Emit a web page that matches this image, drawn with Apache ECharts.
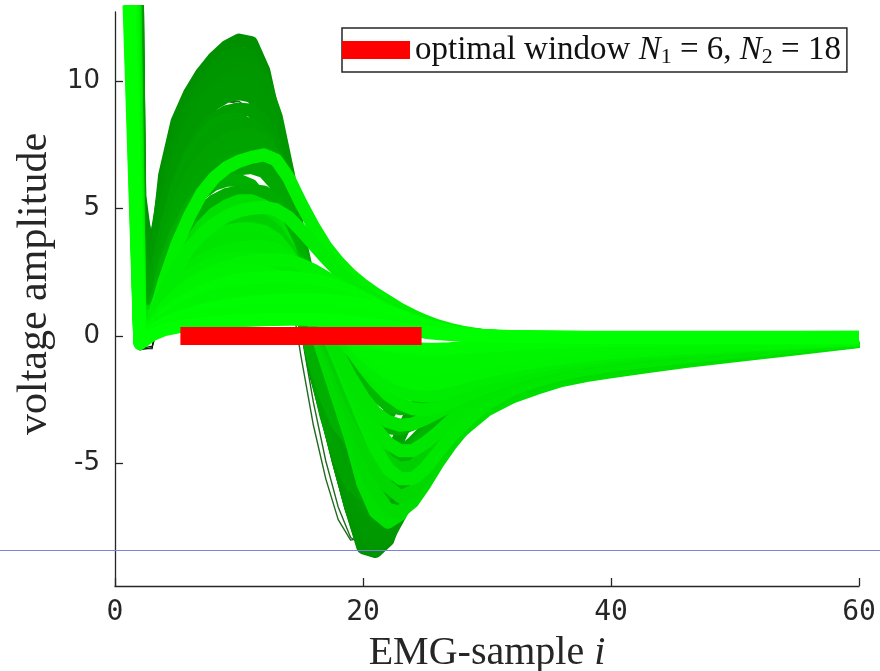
<!DOCTYPE html>
<html>
<head>
<meta charset="utf-8">
<title>EMG samples with optimal window</title>
<script src="https://cdn.jsdelivr.net/npm/echarts@6.0.0/dist/echarts.min.js"></script>
<style>
  html, body { margin: 0; padding: 0; background: #ffffff; }
  #chart { width: 880px; height: 671px; }
</style>
</head>
<body>
<div id="chart"></div>
<script>
// EMG sample index (1..30 densely, then the slow tail)
const sampleIdx = [1, 2, 3, 4, 5, 6, 7, 8, 9, 10, 11, 12, 13, 14, 15, 16, 17, 18, 19, 20,
  21, 22, 23, 24, 25, 26, 27, 28, 29, 30, 32, 34, 36, 38, 40, 43, 46, 50, 55, 60];

// thin raw traces (dark outlines)
const rawK1 = [35, -0.5, -0.5, 3.5, 5.4, 6.6, 7.4, 7.9, 8.1, 8.2, 8.1, 7.6, 6.5, 4.8, 2.6, 0.4, -1.4, -2.9, -4.1, -5.0,
  -5.4, -5.2, -4.4, -3.3, -2.4, -1.7, -1.2, -0.85, -0.6, -0.45, -0.38, -0.35, -0.33, -0.32, -0.3, -0.27, -0.24, -0.2, -0.16, -0.13];
const rawK2 = [30, -0.55, -0.45, 2.0, 3.2, 4.0, 4.5, 4.8, 5.0, 5.0, 4.9, 4.6, 4.0, 3.0, 1.8, 0.4, -0.9, -2.0, -2.9, -3.5,
  -3.8, -3.8, -3.5, -3.0, -2.5, -2.1, -1.8, -1.6, -1.45, -1.35, -1.2, -1.05, -0.92, -0.8, -0.7, -0.58, -0.48, -0.38, -0.27, -0.16];
const rawK3 = [28, -0.5, -0.4, 1.0, 1.7, 2.2, 2.6, 2.9, 3.1, 3.2, 3.3, 3.3, 3.2, 3.0, 2.6, 2.0, 1.3, 0.5, -0.3, -1.0,
  -1.5, -1.9, -2.1, -2.2, -2.1, -1.9, -1.65, -1.45, -1.3, -1.15, -1.0, -0.88, -0.78, -0.68, -0.6, -0.5, -0.42, -0.33, -0.24, -0.15];
const rawK4 = [45, 4.0, 0.8, 6.0, 8.2, 9.5, 10.3, 10.8, 11.0, 11.1, 10.9, 10.0, 8.1, 5.4, 2.3, -0.7, -2.9, -4.8, -6.4, -7.5,
  -7.8, -7.2, -5.9, -4.6, -3.5, -2.6, -1.9, -1.4, -1.05, -0.8, -0.55, -0.42, -0.35, -0.3, -0.27, -0.23, -0.2, -0.17, -0.14, -0.12];
const rawH1 = [40, 3.0, 0.8, 3.8, 5.9, 7.4, 8.4, 9.0, 9.2, 9.1, 8.5, 7.2, 5.0, 2.2, -0.8, -3.5, -5.6, -7.2, -8.0, -7.9,
  -6.4, -4.8, -3.6, -2.8, -2.2, -1.8, -1.5, -1.25, -1.05, -0.9, -0.7, -0.55, -0.45, -0.38, -0.33, -0.27, -0.23, -0.19, -0.16, -0.13];
const rawH2 = [42, 3.2, 0.9, 3.6, 5.7, 7.2, 8.2, 8.9, 9.2, 9.2, 8.8, 7.7, 5.8, 3.2, 0.2, -2.6, -4.9, -6.7, -7.9, -8.2,
  -7.0, -5.2, -3.9, -3.0, -2.4, -1.9, -1.6, -1.3, -1.1, -0.95, -0.75, -0.58, -0.47, -0.4, -0.34, -0.28, -0.24, -0.2, -0.16, -0.13];

// early responses, strongest first
const resp1 = [45, 5.5, 1.8, 6.3, 8.4, 9.5, 10.3, 10.9, 11.35, 11.6, 11.5, 10.4, 8.2, 5.2, 1.8, -1.2, -3.0, -4.9, -6.7, -8.3,
  -8.45, -8.0, -6.6, -5.2, -4.0, -3.1, -2.4, -1.8, -1.3, -1.0, -0.62, -0.42, -0.32, -0.27, -0.24, -0.2, -0.17, -0.15, -0.13, -0.12];
const resp1b = [48, 5.0, 2.8, 5.9, 7.9, 9.1, 9.9, 10.5, 10.9, 11.1, 11.0, 10.1, 8.0, 5.2, 2.0, -1.0, -3.0, -4.9, -6.7, -8.2,
  -8.4, -7.9, -6.4, -5.0, -3.8, -3.0, -2.35, -1.85, -1.45, -1.15, -0.78, -0.55, -0.43, -0.36, -0.31, -0.26, -0.22, -0.18, -0.15, -0.13];
const resp2 = [50, 4.5, 3.2, 5.4, 7.4, 8.7, 9.6, 10.2, 10.55, 10.7, 10.6, 9.8, 7.9, 5.2, 2.1, -0.9, -2.9, -4.9, -6.7, -8.0,
  -8.3, -7.7, -6.2, -4.8, -3.7, -2.9, -2.3, -1.85, -1.5, -1.25, -0.9, -0.66, -0.52, -0.43, -0.37, -0.3, -0.25, -0.2, -0.16, -0.14];
const resp2a = [42, 4.2, 2.4, 4.6, 6.6, 7.9, 8.9, 9.6, 10.1, 10.35, 10.4, 10.0, 8.6, 6.3, 3.5, 0.5, -2.0, -4.2, -6.0, -7.3,
  -8.0, -7.9, -7.0, -5.8, -4.7, -3.8, -3.1, -2.55, -2.1, -1.75, -1.3, -1.0, -0.8, -0.66, -0.56, -0.45, -0.37, -0.29, -0.21, -0.15];
const resp2b = [45, 4.0, 3.0, 5.0, 6.9, 8.2, 9.1, 9.65, 9.95, 10.1, 10.0, 9.3, 7.6, 5.2, 2.4, -0.5, -2.6, -4.5, -6.3, -7.6,
  -8.0, -7.6, -6.3, -4.9, -3.8, -3.0, -2.4, -1.95, -1.6, -1.35, -1.0, -0.76, -0.6, -0.5, -0.43, -0.35, -0.29, -0.24, -0.18, -0.15];
const resp2c = [44, 3.8, 2.6, 4.8, 6.7, 8.0, 8.9, 9.5, 9.8, 9.9, 9.8, 9.1, 7.5, 5.2, 2.5, -0.4, -2.6, -4.5, -6.2, -7.4,
  -7.8, -7.5, -6.6, -5.6, -4.7, -3.9, -3.3, -2.8, -2.4, -2.1, -1.65, -1.32, -1.08, -0.9, -0.77, -0.62, -0.51, -0.4, -0.28, -0.18];
const resp3 = [40, 3.5, 2.2, 4.5, 6.4, 7.7, 8.6, 9.1, 9.4, 9.5, 9.4, 8.8, 7.4, 5.3, 2.7, 0.0, -2.2, -4.1, -5.8, -7.0,
  -7.6, -7.4, -6.3, -5.0, -3.9, -3.1, -2.5, -2.05, -1.7, -1.45, -1.1, -0.85, -0.68, -0.57, -0.48, -0.4, -0.33, -0.27, -0.2, -0.16];
const resp3b = [38, 3.2, 2.0, 4.1, 5.9, 7.1, 8.0, 8.5, 8.8, 8.9, 8.85, 8.4, 7.2, 5.3, 2.9, 0.3, -1.9, -3.7, -5.3, -6.5,
  -7.1, -7.0, -6.1, -4.9, -3.9, -3.15, -2.55, -2.15, -1.85, -1.62, -1.28, -1.02, -0.83, -0.7, -0.6, -0.48, -0.4, -0.32, -0.23, -0.17];
const resp3c = [36, 3.0, 1.9, 4.0, 5.8, 7.0, 7.8, 8.3, 8.5, 8.5, 8.2, 7.4, 5.9, 3.8, 1.4, -1.0, -3.1, -4.7, -5.8, -6.2,
  -5.9, -5.0, -3.9, -2.9, -2.1, -1.6, -1.25, -1.0, -0.84, -0.72, -0.55, -0.44, -0.37, -0.32, -0.28, -0.24, -0.2, -0.17, -0.14, -0.12];
const resp4 = [35, 2.6, 1.6, 3.7, 5.4, 6.6, 7.4, 7.9, 8.2, 8.3, 8.3, 7.9, 6.9, 5.3, 3.1, 0.7, -1.5, -3.3, -4.8, -5.9,
  -6.5, -6.5, -5.8, -4.8, -3.9, -3.2, -2.65, -2.3, -2.05, -1.85, -1.5, -1.22, -1.0, -0.85, -0.72, -0.58, -0.47, -0.37, -0.27, -0.18];
const resp4a = [33, 2.3, 1.5, 3.5, 5.1, 6.2, 6.9, 7.4, 7.7, 7.85, 7.9, 7.7, 6.9, 5.5, 3.6, 1.4, -0.8, -2.7, -4.3, -5.5,
  -6.2, -6.2, -5.6, -4.7, -3.8, -3.1, -2.55, -2.15, -1.85, -1.62, -1.3, -1.05, -0.87, -0.74, -0.64, -0.52, -0.43, -0.34, -0.25, -0.17];
const resp4b = [32, 2.3, 1.5, 3.3, 4.8, 5.8, 6.5, 7.0, 7.25, 7.4, 7.45, 7.2, 6.4, 5.1, 3.3, 1.2, -0.9, -2.6, -4.1, -5.2,
  -5.9, -6.0, -5.5, -4.7, -3.9, -3.3, -2.8, -2.45, -2.2, -2.0, -1.62, -1.33, -1.1, -0.93, -0.8, -0.65, -0.53, -0.42, -0.3, -0.19];
const resp4c = [31, 2.1, 1.4, 3.1, 4.5, 5.5, 6.2, 6.6, 6.85, 7.0, 7.0, 6.8, 6.1, 4.9, 3.3, 1.4, -0.6, -2.4, -4.0, -5.3,
  -6.3, -6.8, -6.7, -6.1, -5.3, -4.6, -4.0, -3.5, -3.1, -2.75, -2.2, -1.82, -1.53, -1.3, -1.12, -0.92, -0.76, -0.58, -0.38, -0.2];
const resp5 = [30, 1.8, 0.8, 2.9, 4.2, 5.1, 5.7, 6.1, 6.4, 6.55, 6.6, 6.45, 5.9, 4.9, 3.4, 1.6, -0.3, -2.0, -3.4, -4.5,
  -5.2, -5.4, -5.1, -4.5, -3.9, -3.4, -2.95, -2.6, -2.35, -2.15, -1.75, -1.45, -1.2, -1.02, -0.88, -0.72, -0.6, -0.47, -0.33, -0.2];
const resp5a = [31, 1.2, 0.9, 2.4, 3.5, 4.3, 4.9, 5.3, 5.55, 5.65, 5.6, 5.3, 4.6, 3.5, 2.0, 0.4, -1.2, -2.7, -4.1, -5.3,
  -6.0, -6.2, -5.9, -5.2, -4.4, -3.7, -3.1, -2.6, -2.2, -1.9, -1.5, -1.2, -1.0, -0.85, -0.74, -0.6, -0.5, -0.4, -0.28, -0.16];
const resp5b = [30, 1.5, 0.7, 2.8, 4.1, 5.0, 5.6, 5.95, 6.1, 6.1, 5.9, 5.3, 4.2, 2.7, 0.9, -0.9, -2.4, -3.5, -4.1, -4.2,
  -3.8, -3.1, -2.3, -1.65, -1.2, -0.9, -0.7, -0.56, -0.47, -0.4, -0.32, -0.27, -0.24, -0.22, -0.2, -0.18, -0.16, -0.14, -0.12, -0.1];
const resp5c = [28, 1.4, 0.7, 2.4, 3.5, 4.3, 4.9, 5.3, 5.5, 5.65, 5.7, 5.65, 5.3, 4.5, 3.3, 1.8, 0.1, -1.4, -2.7, -3.7,
  -4.4, -4.7, -4.6, -4.2, -3.7, -3.25, -2.85, -2.55, -2.3, -2.1, -1.75, -1.47, -1.24, -1.06, -0.92, -0.76, -0.63, -0.5, -0.35, -0.2];
const resp6 = [26, 1.0, 0.6, 2.0, 2.9, 3.6, 4.1, 4.4, 4.6, 4.75, 4.8, 4.8, 4.55, 4.0, 3.1, 1.9, 0.6, -0.7, -1.8, -2.7,
  -3.3, -3.6, -3.65, -3.45, -3.15, -2.8, -2.5, -2.2, -1.95, -1.75, -1.45, -1.2, -1.02, -0.88, -0.77, -0.64, -0.54, -0.43, -0.3, -0.17];
const resp6a = [27, 1.2, 0.6, 2.2, 3.2, 3.9, 4.4, 4.7, 4.9, 5.0, 5.0, 4.9, 4.5, 3.7, 2.6, 1.3, -0.1, -1.5, -2.8, -3.8,
  -4.5, -4.8, -4.75, -4.4, -3.9, -3.4, -2.95, -2.6, -2.3, -2.05, -1.68, -1.4, -1.18, -1.0, -0.87, -0.72, -0.6, -0.47, -0.32, -0.18];
const resp6b = [24, 0.7, 0.5, 1.6, 2.4, 2.9, 3.3, 3.55, 3.7, 3.8, 3.85, 3.9, 3.8, 3.45, 2.85, 2.0, 1.0, 0.0, -0.9, -1.7,
  -2.3, -2.7, -2.85, -2.8, -2.6, -2.35, -2.1, -1.9, -1.72, -1.57, -1.32, -1.12, -0.96, -0.83, -0.73, -0.61, -0.51, -0.4, -0.28, -0.16];
const resp7 = [22, 0.4, 0.4, 1.2, 1.8, 2.2, 2.5, 2.7, 2.85, 2.95, 3.0, 3.0, 2.95, 2.75, 2.4, 1.9, 1.3, 0.6, -0.1, -0.7,
  -1.2, -1.55, -1.8, -1.9, -1.9, -1.8, -1.65, -1.5, -1.38, -1.27, -1.08, -0.92, -0.79, -0.68, -0.6, -0.5, -0.42, -0.33, -0.24, -0.14];

// later responses (lighter greens, drawn on top)
const late0 = [32, 1.0, 0.9, 1.8, 2.8, 3.6, 4.3, 4.8, 5.1, 5.3, 5.3, 5.1, 4.5, 3.5, 2.0, 0.5, -1.0, -2.5, -4.0, -5.8,
  -6.9, -7.3, -7.0, -6.2, -5.4, -4.7, -4.1, -3.7, -3.3, -2.9, -2.4, -2.05, -1.75, -1.55, -1.4, -1.2, -1.0, -0.78, -0.5, -0.22];
const late0a = [30, 0.9, 0.8, 1.8, 2.7, 3.4, 4.0, 4.4, 4.7, 4.85, 4.9, 4.75, 4.2, 3.3, 2.0, 0.6, -0.9, -2.4, -3.8, -5.1,
  -6.1, -6.8, -6.9, -6.5, -5.8, -5.0, -4.3, -3.7, -3.2, -2.8, -2.25, -1.88, -1.6, -1.4, -1.24, -1.05, -0.88, -0.68, -0.44, -0.21];
const late0b = [29, 0.8, 0.7, 1.9, 2.8, 3.4, 3.9, 4.2, 4.4, 4.5, 4.5, 4.35, 3.9, 3.1, 2.1, 0.9, -0.4, -1.7, -3.0, -4.2,
  -5.2, -5.9, -6.3, -6.1, -5.5, -4.8, -4.1, -3.5, -2.95, -2.45, -1.95, -1.62, -1.4, -1.22, -1.08, -0.92, -0.78, -0.6, -0.4, -0.2];
const late0c = [27, 1.0, 0.7, 2.0, 2.9, 3.5, 4.0, 4.3, 4.5, 4.6, 4.6, 4.5, 4.1, 3.4, 2.4, 1.2, -0.1, -1.3, -2.5, -3.5,
  -4.3, -4.9, -5.2, -5.1, -4.7, -4.2, -3.7, -3.25, -2.85, -2.5, -2.0, -1.65, -1.4, -1.2, -1.05, -0.88, -0.73, -0.56, -0.38, -0.19];
const late1 = [28, 0.6, 0.6, 1.6, 2.4, 3.0, 3.5, 3.8, 4.0, 4.1, 4.1, 4.0, 3.6, 3.0, 2.2, 1.2, 0.2, -0.9, -2.1, -3.3,
  -4.4, -5.2, -5.6, -5.6, -5.2, -4.6, -4.0, -3.5, -3.05, -2.65, -2.1, -1.75, -1.5, -1.3, -1.15, -0.98, -0.83, -0.64, -0.42, -0.2];
const late1a = [26, 0.9, 0.7, 1.9, 2.7, 3.3, 3.7, 4.0, 4.1, 4.2, 4.2, 4.1, 3.8, 3.2, 2.4, 1.4, 0.4, -0.7, -1.8, -2.8,
  -3.6, -4.2, -4.5, -4.5, -4.2, -3.8, -3.35, -2.95, -2.6, -2.3, -1.85, -1.52, -1.28, -1.1, -0.96, -0.8, -0.67, -0.52, -0.35, -0.18];
const late1c = [25, 0.7, 0.6, 1.7, 2.5, 3.0, 3.4, 3.65, 3.8, 3.85, 3.85, 3.75, 3.45, 2.9, 2.2, 1.3, 0.3, -0.7, -1.6, -2.4,
  -3.0, -3.35, -3.5, -3.45, -3.25, -3.0, -2.75, -2.5, -2.28, -2.08, -1.72, -1.43, -1.2, -1.03, -0.9, -0.75, -0.62, -0.48, -0.33, -0.18];
const late1b = [23, 0.5, 0.5, 1.4, 2.1, 2.6, 2.95, 3.2, 3.35, 3.45, 3.5, 3.5, 3.4, 3.1, 2.6, 1.9, 1.1, 0.3, -0.5, -1.2,
  -1.8, -2.3, -2.65, -2.85, -2.9, -2.8, -2.6, -2.4, -2.2, -2.0, -1.65, -1.38, -1.17, -1.0, -0.87, -0.72, -0.6, -0.47, -0.32, -0.17];
const late1d = [23, 0.4, 0.5, 1.3, 1.9, 2.35, 2.65, 2.85, 3.0, 3.05, 3.05, 3.0, 2.8, 2.45, 1.95, 1.35, 0.7, 0.05, -0.55, -1.1,
  -1.55, -1.9, -2.15, -2.3, -2.35, -2.3, -2.15, -1.98, -1.82, -1.67, -1.4, -1.18, -1.0, -0.87, -0.77, -0.64, -0.54, -0.42, -0.29, -0.15];
const late2 = [24, 0.2, 0.5, 2.2, 3.6, 4.7, 5.6, 6.2, 6.6, 6.85, 7.0, 7.1, 6.9, 6.2, 5.2, 4.3, 3.5, 2.9, 2.4, 2.0,
  1.65, 1.35, 1.05, 0.8, 0.58, 0.4, 0.26, 0.15, 0.07, 0.0, -0.05, -0.07, -0.08, -0.09, -0.09, -0.09, -0.09, -0.09, -0.08, -0.08];
const late2b = [22, 0.1, 0.45, 1.7, 2.7, 3.45, 4.0, 4.4, 4.7, 4.9, 5.0, 5.05, 4.95, 4.65, 4.15, 3.6, 3.05, 2.55, 2.1, 1.72,
  1.4, 1.12, 0.87, 0.64, 0.45, 0.3, 0.19, 0.11, 0.05, 0.0, -0.05, -0.07, -0.08, -0.09, -0.09, -0.09, -0.09, -0.09, -0.08, -0.08];
const late3 = [20, 0.0, 0.4, 0.9, 1.25, 1.5, 1.7, 1.85, 1.95, 2.0, 2.0, 2.0, 1.95, 1.8, 1.55, 1.2, 0.8, 0.35, -0.1, -0.55,
  -0.95, -1.3, -1.55, -1.7, -1.75, -1.7, -1.58, -1.45, -1.3, -1.15, -0.93, -0.78, -0.66, -0.57, -0.5, -0.42, -0.36, -0.29, -0.21, -0.12];
const late3a = [19, -0.1, 0.3, 0.7, 1.0, 1.2, 1.35, 1.45, 1.5, 1.52, 1.52, 1.5, 1.45, 1.35, 1.2, 1.0, 0.75, 0.45, 0.15, -0.15,
  -0.42, -0.65, -0.82, -0.93, -0.98, -0.98, -0.93, -0.85, -0.77, -0.7, -0.58, -0.48, -0.41, -0.36, -0.32, -0.27, -0.23, -0.19, -0.15, -0.1];
const late3b = [21, 0.0, 0.35, 1.1, 1.6, 2.0, 2.3, 2.55, 2.72, 2.85, 2.93, 2.98, 3.0, 2.95, 2.8, 2.58, 2.3, 2.0, 1.7, 1.42,
  1.16, 0.92, 0.7, 0.52, 0.37, 0.25, 0.16, 0.09, 0.04, 0.0, -0.05, -0.07, -0.08, -0.08, -0.08, -0.08, -0.08, -0.08, -0.08, -0.07];
const late3c = [21, 0.2, 0.4, 1.1, 1.6, 1.95, 2.2, 2.4, 2.5, 2.55, 2.55, 2.5, 2.35, 2.1, 1.75, 1.3, 0.8, 0.3, -0.2, -0.7,
  -1.1, -1.45, -1.7, -1.85, -1.9, -1.85, -1.75, -1.62, -1.5, -1.38, -1.17, -1.0, -0.87, -0.76, -0.67, -0.56, -0.47, -0.37, -0.26, -0.14];
const late3d = [20, 0.0, 0.35, 0.85, 1.2, 1.45, 1.62, 1.74, 1.82, 1.86, 1.86, 1.82, 1.72, 1.55, 1.3, 0.98, 0.62, 0.25, -0.1, -0.42,
  -0.7, -0.93, -1.1, -1.22, -1.28, -1.28, -1.22, -1.14, -1.06, -0.98, -0.82, -0.7, -0.6, -0.52, -0.46, -0.39, -0.33, -0.27, -0.2, -0.11];
const late4 = [18, -0.1, 0.3, 0.8, 1.2, 1.5, 1.75, 1.95, 2.1, 2.2, 2.25, 2.3, 2.3, 2.3, 2.25, 2.2, 2.1, 1.95, 1.75, 1.5,
  1.25, 1.0, 0.78, 0.58, 0.42, 0.3, 0.2, 0.12, 0.05, 0.0, -0.04, -0.06, -0.07, -0.08, -0.08, -0.08, -0.08, -0.08, -0.08, -0.07];
const late4a = [18, -0.2, 0.2, 0.55, 0.8, 0.98, 1.1, 1.18, 1.23, 1.25, 1.25, 1.22, 1.15, 1.04, 0.9, 0.72, 0.52, 0.3, 0.1, -0.08,
  -0.22, -0.34, -0.43, -0.49, -0.52, -0.52, -0.5, -0.46, -0.42, -0.38, -0.32, -0.27, -0.23, -0.2, -0.18, -0.16, -0.14, -0.12, -0.1, -0.08];
const late4b = [19, -0.15, 0.25, 0.65, 0.95, 1.2, 1.4, 1.55, 1.65, 1.72, 1.77, 1.8, 1.82, 1.82, 1.8, 1.75, 1.66, 1.54, 1.38, 1.2,
  1.0, 0.8, 0.62, 0.45, 0.31, 0.2, 0.12, 0.06, 0.02, 0.0, -0.04, -0.06, -0.07, -0.07, -0.07, -0.07, -0.07, -0.07, -0.07, -0.06];
const late5 = [16, -0.2, 0.2, 0.5, 0.7, 0.85, 1.0, 1.1, 1.2, 1.27, 1.32, 1.36, 1.4, 1.42, 1.42, 1.42, 1.4, 1.36, 1.3, 1.22,
  1.1, 0.95, 0.8, 0.62, 0.45, 0.3, 0.18, 0.1, 0.04, 0.0, -0.03, -0.05, -0.06, -0.06, -0.07, -0.07, -0.07, -0.07, -0.07, -0.06];
const late5b = [17, -0.25, 0.1, 0.35, 0.5, 0.62, 0.72, 0.8, 0.87, 0.92, 0.96, 0.99, 1.01, 1.02, 1.02, 1.0, 0.97, 0.92, 0.86, 0.78,
  0.69, 0.58, 0.47, 0.36, 0.26, 0.17, 0.1, 0.05, 0.02, 0.0, -0.03, -0.04, -0.05, -0.06, -0.06, -0.06, -0.06, -0.06, -0.06, -0.05];
const late6 = [15, -0.3, 0.05, 0.25, 0.35, 0.42, 0.48, 0.52, 0.56, 0.6, 0.62, 0.64, 0.65, 0.66, 0.66, 0.65, 0.63, 0.6, 0.55, 0.5,
  0.44, 0.37, 0.3, 0.22, 0.15, 0.1, 0.06, 0.03, 0.01, 0.0, -0.02, -0.03, -0.04, -0.05, -0.05, -0.05, -0.05, -0.05, -0.05, -0.05];

// analysis window: start N1, length N2
const windowN1 = 6;
const windowN2 = 18;
const windowLevel = 0;

// y-axis tick positions
const yTicks = [-5, 0, 5, 10];

const ink = '#262626';
const traceWidth = 13;

function trace(values, color, width) {
  return {
    type: 'line',
    data: sampleIdx.map((x, i) => [x, values[i]]),
    showSymbol: false,
    symbol: 'none',
    silent: true,
    animation: false,
    lineStyle: { color: color, width: width, join: 'round', cap: 'butt' },
    z: 2
  };
}

// drawing order: thin raw traces, early responses, later responses, window
const layers = [
  [rawK4, '#0a1a0a', 1.2], [rawK1, '#0a1a0a', 1.2], [rawK2, '#0a1a0a', 1.2], [rawK3, '#0a1a0a', 1.2],
  [rawH1, '#1f6a1f', 1.4], [rawH2, '#1f6a1f', 1.4],
  [resp1, '#009000', traceWidth], [resp1b, '#009400', traceWidth], [resp2, '#009600', traceWidth],
  [resp2a, '#009700', traceWidth], [resp2b, '#009800', traceWidth], [resp2c, '#009a00', traceWidth],
  [resp3, '#009a00', traceWidth], [resp3b, '#009d00', traceWidth], [resp3c, '#00a200', traceWidth],
  [resp4, '#00a000', traceWidth], [resp4a, '#00a300', traceWidth], [resp4b, '#00a400', traceWidth],
  [resp4c, '#00a600', traceWidth], [resp5, '#00a800', traceWidth], [resp5a, '#00b000', traceWidth],
  [resp5b, '#00b000', traceWidth], [resp5c, '#00ac00', traceWidth], [resp6, '#00b200', traceWidth],
  [resp6a, '#00b400', traceWidth], [resp6b, '#00b800', traceWidth], [resp7, '#00bc00', traceWidth],
  [late0, '#00e000', traceWidth], [late0a, '#00dc00', traceWidth], [late0b, '#00d800', traceWidth],
  [late0c, '#00d000', traceWidth], [late1, '#00e800', traceWidth], [late1a, '#00e600', traceWidth],
  [late1c, '#00e400', traceWidth], [late1b, '#00ea00', traceWidth], [late1d, '#00ec00', traceWidth],
  [late2, '#00f000', traceWidth], [late2b, '#00ec00', traceWidth], [late3, '#00f400', traceWidth],
  [late3a, '#00f600', traceWidth], [late3b, '#00f200', traceWidth], [late3c, '#00f400', traceWidth],
  [late3d, '#00f600', traceWidth], [late4, '#00f800', traceWidth], [late4a, '#00fa00', traceWidth],
  [late4b, '#00f600', traceWidth], [late5, '#00fc00', traceWidth], [late5b, '#00fa00', traceWidth],
  [late6, '#00ff00', traceWidth]
];

const series = layers.map(l => trace(l[0], l[1], l[2]));
series.push({
  name: 'optimal window',
  type: 'line',
  data: [[windowN1, windowLevel], [windowN1 + windowN2, windowLevel]],
  showSymbol: false,
  symbol: 'none',
  silent: true,
  animation: false,
  color: '#ff0000',
  lineStyle: { color: '#ff0000', width: 18, cap: 'square' },
  z: 5
});

const chart = echarts.init(document.getElementById('chart'));
chart.setOption({
  backgroundColor: '#ffffff',
  animation: false,
  grid: { left: 115, right: 21, top: 12, bottom: 85, containLabel: false, outerBoundsMode: 'none' },
  legend: {
    data: ['optimal window'],
    left: 342,
    top: 28,
    orient: 'horizontal',
    icon: 'rect',
    itemWidth: 68,
    itemHeight: 18,
    padding: [4, 6, 4, 0],
    backgroundColor: '#ffffff',
    borderColor: ink,
    borderWidth: 1.5,
    borderRadius: 0,
    selectedMode: false,
    formatter: function () {
      return 'optimal window {i|N}{s|1} = ' + windowN1 + ', {i|N}{s|2} = ' + windowN2;
    },
    textStyle: {
      fontFamily: 'Liberation Serif',
      fontSize: 33,
      color: '#111111',
      lineHeight: 36,
      rich: {
        i: { fontFamily: 'Liberation Serif', fontStyle: 'italic', fontSize: 33, color: '#111111' },
        s: { fontFamily: 'Liberation Serif', fontSize: 22, color: '#111111', padding: [14, 0, 0, 0] }
      }
    }
  },
  graphic: [
    {
      type: 'line',
      shape: { x1: 0, y1: 550.5, x2: 880, y2: 550.5 },
      style: { stroke: '#7f7fe0', lineWidth: 1 },
      silent: true,
      z: 100
    }
  ],
  xAxis: {
    type: 'value',
    min: 0,
    max: 60,
    interval: 20,
    splitLine: { show: false },
    axisLine: { onZero: false, lineStyle: { color: ink, width: 1.3 } },
    axisTick: { inside: true, length: 8, lineStyle: { color: ink, width: 1.3 } },
    axisLabel: { fontFamily: 'DejaVu Sans Mono', fontSize: 28, color: ink, margin: 13 },
    name: 'EMG-sample {i|i}',
    nameLocation: 'middle',
    nameGap: 47,
    nameTextStyle: {
      fontFamily: 'Liberation Serif',
      fontSize: 40,
      color: ink,
      rich: { i: { fontFamily: 'Liberation Serif', fontStyle: 'italic', fontSize: 40, color: ink } }
    }
  },
  yAxis: {
    type: 'value',
    min: -9.8,
    max: 12.7,
    splitLine: { show: false },
    axisLine: { onZero: false, lineStyle: { color: ink, width: 1.3 } },
    axisTick: { inside: true, length: 8, customValues: yTicks, lineStyle: { color: ink, width: 1.3 } },
    axisLabel: { fontFamily: 'DejaVu Sans', fontSize: 26, color: ink, margin: 15, padding: [6, 0, 0, 0], customValues: yTicks },
    name: 'voltage amplitude',
    nameLocation: 'middle',
    nameRotate: 90,
    nameGap: 52,
    nameTextStyle: {
      fontFamily: 'Liberation Serif',
      fontSize: 42,
      color: ink,
      padding: [0, 0, 0, 30]
    }
  },
  series: series
});
</script>
</body>
</html>
